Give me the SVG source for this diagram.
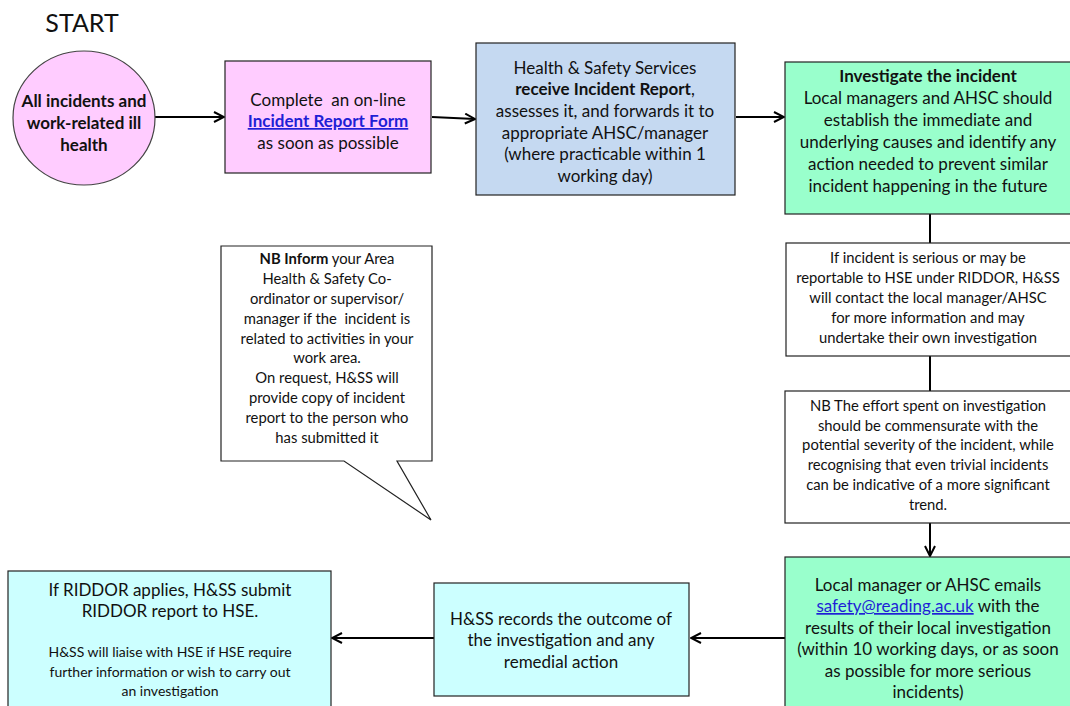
<svg xmlns="http://www.w3.org/2000/svg" width="1070" height="706" viewBox="0 0 1070 706">
<defs>
<marker id="ah" viewBox="0 0 12 12" refX="11" refY="6" markerWidth="12" markerHeight="12" markerUnits="userSpaceOnUse" orient="auto">
<path d="M1,1 L11,6 L1,11" fill="none" stroke="#000" stroke-width="2"/>
</marker>
<style>
text{font-family:Lato,"Open Sans","Liberation Sans",sans-serif;fill:#111;text-anchor:middle}
.t16{font-size:17px}
.t14{font-size:14.8px}
.t13{font-size:14px}
.b{font-weight:bold}
.lnk{fill:#1f1fd6;text-decoration:underline}
.box{stroke:#222;stroke-width:1.2}
.pink{fill:#ffccff}
.blue{fill:#c5d9f1}
.green{fill:#99ffcc}
.cyan{fill:#ccffff}
.white{fill:#fff}
.con{stroke:#000;stroke-width:2;fill:none}
</style>
</defs>
<rect width="1070" height="706" fill="#fff"/>
<text x="82" y="32" style="font-size:25px">START</text>

<g id="connectors">
<line class="con" x1="155" y1="117" x2="224" y2="117" marker-end="url(#ah)"/>
<line class="con" x1="432" y1="117" x2="475" y2="119" marker-end="url(#ah)"/>
<line class="con" x1="736" y1="117" x2="784" y2="117" marker-end="url(#ah)"/>
<line class="con" x1="930" y1="214" x2="930" y2="243"/>
<line class="con" x1="930" y1="356" x2="930" y2="391"/>
<line class="con" x1="930" y1="523" x2="930" y2="556" marker-end="url(#ah)"/>
<line class="con" x1="785" y1="638" x2="691" y2="638" marker-end="url(#ah)"/>
<line class="con" x1="434" y1="638" x2="332" y2="638" marker-end="url(#ah)"/>
</g>

<g id="start">
<ellipse cx="84" cy="118" rx="71" ry="67" class="pink" stroke="#444" stroke-width="1.2"/>
<text class="t16 b" x="84" y="107">All incidents and</text>
<text class="t16 b" x="84" y="129">work-related ill</text>
<text class="t16 b" x="84" y="151">health</text>
</g>

<g id="form">
<rect class="box pink" x="225" y="61" width="206" height="112"/>
<text class="t16" x="328" y="106" xml:space="preserve">Complete  an on-line</text>
<text class="t16 b lnk" x="328" y="127">Incident Report Form</text>
<text class="t16" x="328" y="149">as soon as possible</text>
</g>

<g id="hss-receive">
<rect class="box blue" x="476" y="43" width="259" height="152"/>
<text class="t16" x="605" y="74">Health &amp; Safety Services</text>
<text class="t16" x="605" y="95"><tspan class="b">receive Incident Report</tspan>,</text>
<text class="t16" x="605" y="117">assesses it, and forwards it to</text>
<text class="t16" x="605" y="139">appropriate AHSC/manager</text>
<text class="t16" x="605" y="160">(where practicable within 1</text>
<text class="t16" x="605" y="182">working day)</text>
</g>

<g id="investigate">
<rect class="box green" x="785" y="62" width="290" height="152"/>
<text class="t16 b" x="928" y="82">Investigate the incident</text>
<text class="t16" x="928" y="104">Local managers and AHSC should</text>
<text class="t16" x="928" y="126">establish the immediate and</text>
<text class="t16" x="928" y="148">underlying causes and identify any</text>
<text class="t16" x="928" y="170">action needed to prevent similar</text>
<text class="t16" x="928" y="192">incident happening in the future</text>
</g>

<g id="serious">
<rect class="box white" x="786" y="243" width="290" height="113"/>
<text class="t14" x="928" y="263">If incident is serious or may be</text>
<text class="t14" x="928" y="283">reportable to HSE under RIDDOR, H&amp;SS</text>
<text class="t14" x="928" y="303">will contact the local manager/AHSC</text>
<text class="t14" x="928" y="323">for more information and may</text>
<text class="t14" x="928" y="343">undertake their own investigation</text>
</g>

<g id="effort">
<rect class="box white" x="785" y="391" width="290" height="132"/>
<text class="t14" x="928" y="411">NB The effort spent on investigation</text>
<text class="t14" x="928" y="431">should be commensurate with the</text>
<text class="t14" x="928" y="450">potential severity of the incident, while</text>
<text class="t14" x="928" y="470">recognising that even trivial incidents</text>
<text class="t14" x="928" y="490">can be indicative of a more significant</text>
<text class="t14" x="928" y="510">trend.</text>
</g>

<g id="callout">
<path d="M221,246 H432 V461 H397 L431,520 L344,461 H221 Z" fill="#fff" stroke="#222" stroke-width="1.2"/>
<text class="t14" x="327" y="264"><tspan class="b">NB Inform</tspan> your Area</text>
<text class="t14" x="327" y="284">Health &amp; Safety Co-</text>
<text class="t14" x="327" y="304">ordinator or supervisor/</text>
<text class="t14" x="327" y="324" xml:space="preserve">manager if the  incident is</text>
<text class="t14" x="327" y="344">related to activities in your</text>
<text class="t14" x="327" y="363">work area.</text>
<text class="t14" x="327" y="383">On request, H&amp;SS will</text>
<text class="t14" x="327" y="403">provide copy of incident</text>
<text class="t14" x="327" y="423">report to the person who</text>
<text class="t14" x="327" y="443">has submitted it</text>
</g>

<g id="emails">
<rect class="box green" x="785" y="557" width="290" height="155"/>
<text class="t16" x="928" y="591">Local manager or AHSC emails</text>
<text class="t16" x="928" y="612"><tspan class="lnk">safety@reading.ac.uk</tspan> with the</text>
<text class="t16" x="928" y="634">results of their local investigation</text>
<text class="t16" x="928" y="655">(within 10 working days, or as soon</text>
<text class="t16" x="928" y="677">as possible for more serious</text>
<text class="t16" x="928" y="698">incidents)</text>
</g>

<g id="records">
<rect class="box cyan" x="434" y="583" width="255" height="113"/>
<text class="t16" x="561" y="625">H&amp;SS records the outcome of</text>
<text class="t16" x="561" y="646">the investigation and any</text>
<text class="t16" x="561" y="668">remedial action</text>
</g>

<g id="riddor">
<rect class="box cyan" x="8" y="571" width="323" height="140"/>
<text class="t16" x="170" y="596">If RIDDOR applies, H&amp;SS submit</text>
<text class="t16" x="170" y="617">RIDDOR report to HSE.</text>
<text class="t13" x="170" y="657">H&amp;SS will liaise with HSE if HSE require</text>
<text class="t13" x="170" y="677">further information or wish to carry out</text>
<text class="t13" x="170" y="696">an investigation</text>
</g>
</svg>
